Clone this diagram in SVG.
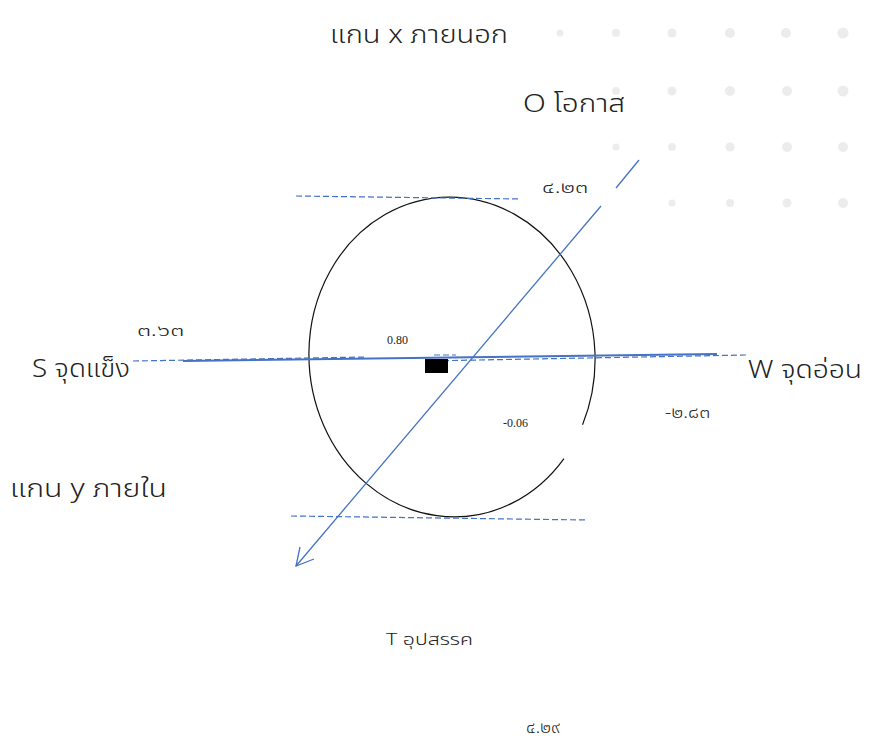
<svg xmlns="http://www.w3.org/2000/svg" width="875" height="742" viewBox="0 0 875 742">
<style>
.th{font-family:"Noto Sans Thai","Noto Sans","DejaVu Sans",sans-serif;fill:#222;font-weight:300}
.big{font-size:25px}
.mid{font-size:16px}
.num{font-family:"Liberation Serif",serif;font-size:12px;fill:#222}
.dot{fill:#ececec}
.dash{stroke:#4472c4;stroke-width:1.2;stroke-dasharray:6 3;fill:none}
.blue{stroke:#4472c4;stroke-width:1.3;fill:none}
</style>
<rect width="875" height="742" fill="#fff"/>
<g id="dots">
<circle class="dot" cx="560" cy="33" r="3.5"/><circle class="dot" cx="616" cy="33" r="4"/><circle class="dot" cx="672" cy="33" r="4.5"/><circle class="dot" cx="730" cy="33" r="5"/><circle class="dot" cx="786" cy="33" r="5"/><circle class="dot" cx="843" cy="33" r="5.5"/>
<circle class="dot" cx="616" cy="91" r="4"/><circle class="dot" cx="672" cy="91" r="4.5"/><circle class="dot" cx="730" cy="91" r="5"/><circle class="dot" cx="787" cy="91" r="5"/><circle class="dot" cx="843" cy="91" r="5.5"/>
<circle class="dot" cx="616" cy="147" r="3.5"/><circle class="dot" cx="672" cy="147" r="4"/><circle class="dot" cx="730" cy="147" r="4.5"/><circle class="dot" cx="787" cy="147" r="5"/><circle class="dot" cx="843" cy="147" r="5"/>
<circle class="dot" cx="672" cy="203" r="3.5"/><circle class="dot" cx="730" cy="203" r="4"/><circle class="dot" cx="787" cy="203" r="4.5"/><circle class="dot" cx="843" cy="203" r="5"/>
</g>
<g id="ellipse">
<path d="M577.5,433.7 A143,160 0 1 0 556.6,466.1" transform="rotate(-4 452 357)" fill="none" stroke="#111" stroke-width="1.2"/>
</g>
<g id="connectors">
<line class="dash" x1="296" y1="196" x2="521" y2="199"/>
<line class="dash" x1="291" y1="516" x2="587" y2="520"/>
<line class="dash" x1="133" y1="361" x2="367" y2="357"/>
<line class="dash" x1="425" y1="361" x2="747" y2="355"/>
<line class="dash" x1="434" y1="355" x2="456" y2="355"/>
<line x1="183" y1="361" x2="717" y2="354" stroke="#4472c4" stroke-width="2"/>
<line class="blue" x1="639" y1="160" x2="616" y2="188"/>
<line class="blue" x1="601" y1="206" x2="296" y2="566"/>
<polyline class="blue" points="300,547 296,566 314,559"/>
</g>
<g id="marker-box"><rect x="425" y="359" width="23" height="14" fill="#000"/></g>
<g id="labels">
<text class="th big" x="330" y="43" textLength="178" lengthAdjust="spacingAndGlyphs">แกน x ภายนอก</text>
<text class="th big" x="523" y="112" textLength="102" lengthAdjust="spacingAndGlyphs">O โอกาส</text>
<text class="th mid" x="542" y="193" textLength="46" lengthAdjust="spacingAndGlyphs">๔.๒๓</text>
<text class="th mid" x="137" y="336" textLength="47" lengthAdjust="spacingAndGlyphs">๓.๖๓</text>
<text class="num" x="387" y="344">0.80</text>
<text class="th big" x="32" y="377" textLength="98" lengthAdjust="spacingAndGlyphs">S จุดแข็ง</text>
<text class="th big" x="748" y="378" textLength="114" lengthAdjust="spacingAndGlyphs">W จุดอ่อน</text>
<text class="th mid" x="665" y="418" textLength="45" lengthAdjust="spacingAndGlyphs">-๒.๘๓</text>
<text class="num" x="503" y="427">-0.06</text>
<text class="th big" x="10" y="497" textLength="157" lengthAdjust="spacingAndGlyphs">แกน y ภายใน</text>
<text class="th mid" x="386" y="645" textLength="87" lengthAdjust="spacingAndGlyphs">T  อุปสรรค</text>
<text class="th mid" x="526" y="733" textLength="34" lengthAdjust="spacingAndGlyphs">๔.๒๙</text>
</g>
</svg>
